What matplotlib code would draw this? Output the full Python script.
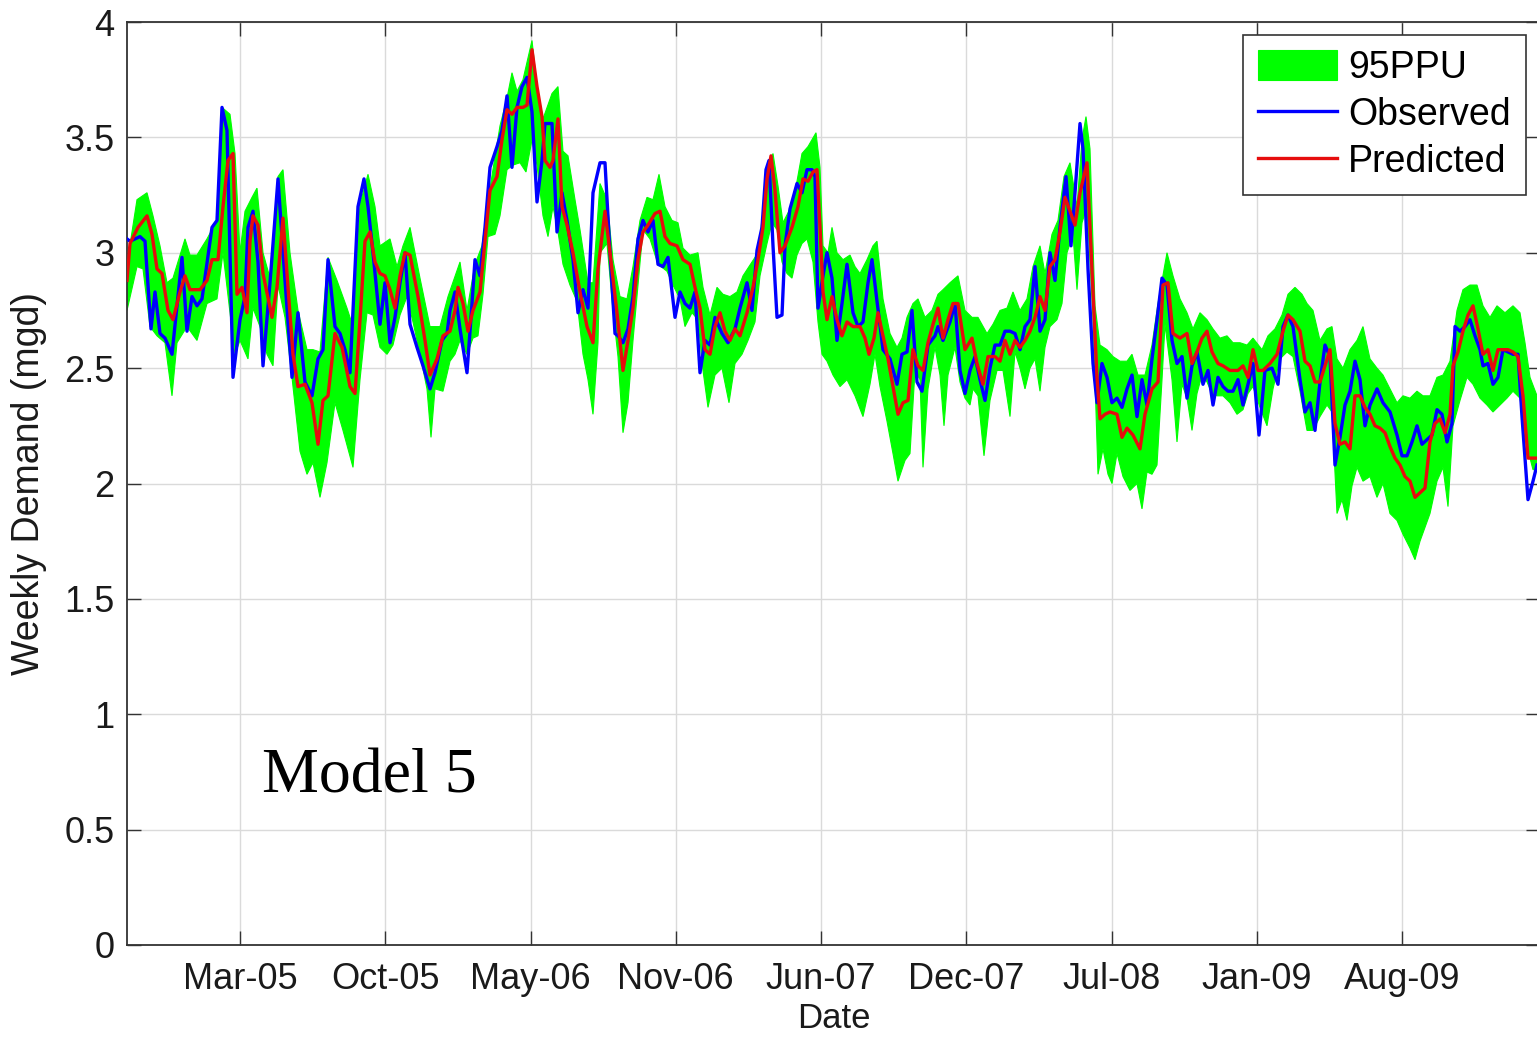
import numpy as np
import matplotlib
matplotlib.use("Agg")
import matplotlib.pyplot as plt
from matplotlib.ticker import FormatStrFormatter

# ---------------- data (week index, weekly demand in mgd) ----------------
observed = [
    (0.0, 3.06), (0.6, 3.05), (2.6, 3.07), (3.6, 3.05), (4.8, 2.67), (5.6, 2.83), (6.6, 2.65),
    (7.6, 2.63), (9.0, 2.56), (11.0, 2.98), (12.0, 2.66), (13.0, 2.81), (14.0, 2.77), (15.0, 2.80),
    (17.0, 3.11), (18.0, 3.14), (19.0, 3.63), (20.0, 3.53), (21.2, 2.46), (22.6, 2.71), (23.6, 2.81),
    (24.2, 3.11), (25.2, 3.18), (26.2, 2.96), (27.2, 2.51), (28.6, 2.87), (30.2, 3.32), (31.2, 3.00),
    (33.0, 2.46), (34.2, 2.74), (35.6, 2.44), (37.0, 2.38), (38.2, 2.54), (39.2, 2.58), (40.2, 2.97),
    (41.6, 2.68), (42.6, 2.65), (43.6, 2.58), (44.6, 2.48), (46.2, 3.20), (47.4, 3.32), (48.2, 3.20),
    (49.2, 3.00), (50.6, 2.69), (51.6, 2.87), (52.6, 2.61), (53.6, 2.72), (54.6, 2.87), (55.6, 3.00),
    (56.6, 2.69), (58.0, 2.59), (59.2, 2.51), (60.6, 2.41), (61.6, 2.48), (63.0, 2.62), (64.0, 2.65),
    (64.6, 2.75), (65.6, 2.83), (66.6, 2.67), (68.0, 2.48), (69.0, 2.78), (69.6, 2.97), (70.6, 2.90),
    (71.6, 3.11), (72.6, 3.37), (74.0, 3.46), (75.0, 3.53), (76.0, 3.68), (77.0, 3.37), (78.0, 3.63),
    (79.0, 3.72), (80.0, 3.76), (81.0, 3.61), (82.0, 3.22), (83.0, 3.40), (83.6, 3.56), (85.0, 3.56),
    (86.0, 3.09), (87.0, 3.26), (88.0, 3.14), (89.2, 2.97), (90.2, 2.74), (91.2, 2.84), (92.2, 2.76),
    (93.2, 3.26), (94.6, 3.39), (95.6, 3.39), (96.6, 3.00), (97.6, 2.65), (98.2, 2.64), (99.2, 2.61),
    (100.2, 2.67), (101.2, 2.81), (102.2, 3.06), (103.2, 3.14), (104.2, 3.09), (105.2, 3.14),
    (106.2, 2.95), (107.2, 2.94), (108.2, 2.98), (109.6, 2.72), (110.6, 2.83), (111.6, 2.78),
    (112.6, 2.76), (113.6, 2.83), (114.6, 2.48), (115.6, 2.62), (116.6, 2.60), (117.6, 2.72),
    (119.0, 2.65), (120.2, 2.61), (121.6, 2.67), (122.6, 2.76), (124.0, 2.87), (125.0, 2.75),
    (126.0, 3.01), (127.0, 3.11), (127.8, 3.36), (128.4, 3.40), (129.2, 3.03), (130.0, 2.72),
    (131.0, 2.73), (131.6, 3.03), (132.6, 3.19), (134.0, 3.30), (135.0, 3.26), (136.0, 3.36),
    (137.0, 3.36), (137.6, 3.33), (138.2, 2.76), (139.2, 2.90), (140.0, 3.00), (141.0, 2.89),
    (142.0, 2.62), (143.0, 2.78), (144.0, 2.95), (145.2, 2.74), (146.2, 2.68), (147.2, 2.70),
    (148.2, 2.87), (149.0, 2.97), (150.0, 2.79), (151.2, 2.58), (152.6, 2.54), (154.0, 2.43),
    (155.0, 2.56), (156.0, 2.57), (157.0, 2.75), (158.0, 2.44), (159.0, 2.40), (160.2, 2.60),
    (161.6, 2.64), (162.2, 2.68), (163.2, 2.62), (164.6, 2.70), (165.6, 2.78), (166.6, 2.49),
    (167.6, 2.39), (168.6, 2.49), (169.6, 2.55), (170.6, 2.45), (171.6, 2.36), (172.6, 2.50),
    (173.6, 2.60), (174.6, 2.60), (175.6, 2.66), (176.6, 2.66), (177.6, 2.65), (178.6, 2.58),
    (179.6, 2.68), (180.6, 2.71), (181.6, 2.94), (182.6, 2.66), (183.6, 2.71), (184.6, 3.00),
    (185.6, 2.88), (186.6, 3.11), (187.8, 3.33), (188.8, 3.03), (189.6, 3.26), (190.6, 3.56),
    (191.2, 3.45), (192.2, 2.93), (193.2, 2.52), (194.0, 2.35), (195.0, 2.52), (196.0, 2.46),
    (197.0, 2.35), (198.0, 2.37), (199.0, 2.33), (200.0, 2.41), (201.0, 2.47), (202.0, 2.29),
    (203.0, 2.45), (204.0, 2.34), (205.0, 2.54), (206.0, 2.71), (207.0, 2.89), (208.0, 2.86),
    (209.0, 2.62), (210.0, 2.52), (211.0, 2.55), (212.0, 2.37), (213.0, 2.51), (214.0, 2.57),
    (215.2, 2.43), (216.2, 2.49), (217.2, 2.34), (218.2, 2.46), (219.2, 2.42), (220.2, 2.40),
    (221.2, 2.40), (222.2, 2.45), (223.2, 2.34), (224.2, 2.43), (225.2, 2.52), (226.4, 2.21),
    (227.6, 2.49), (229.0, 2.50), (230.2, 2.43), (231.2, 2.68), (232.2, 2.73), (233.2, 2.68),
    (234.6, 2.45), (235.6, 2.31), (236.6, 2.35), (237.6, 2.23), (238.6, 2.44), (239.6, 2.60),
    (240.6, 2.55), (241.6, 2.08), (242.6, 2.20), (243.6, 2.34), (244.6, 2.40), (245.6, 2.53),
    (246.6, 2.45), (247.6, 2.25), (248.6, 2.34), (250.0, 2.41), (251.2, 2.35), (252.6, 2.31),
    (254.0, 2.21), (255.0, 2.12), (256.0, 2.12), (257.0, 2.18), (258.0, 2.25), (259.0, 2.17),
    (260.0, 2.19), (261.0, 2.21), (262.0, 2.32), (263.0, 2.30), (264.0, 2.18), (265.0, 2.26),
    (265.6, 2.68), (266.6, 2.66), (267.6, 2.68), (268.6, 2.71), (269.6, 2.64), (270.6, 2.58),
    (271.2, 2.51), (272.2, 2.52), (273.2, 2.43), (274.2, 2.46), (275.2, 2.58), (276.2, 2.57),
    (277.2, 2.56), (278.2, 2.56), (279.0, 2.29), (280.2, 1.93), (281.2, 2.01), (282.0, 2.08),
]

predicted = [
    (0.0, 2.88), (0.6, 3.04), (2.2, 3.11), (4.0, 3.16), (5.0, 3.08), (6.0, 2.93), (7.0, 2.91),
    (8.2, 2.75), (9.2, 2.71), (10.6, 2.83), (11.6, 2.90), (12.6, 2.84), (14.6, 2.84), (16.0, 2.88),
    (17.0, 2.97), (18.2, 2.97), (19.2, 3.20), (20.2, 3.40), (21.2, 3.43), (22.0, 2.82), (23.0, 2.85),
    (24.0, 2.74), (24.6, 3.05), (25.2, 3.16), (26.2, 3.12), (27.2, 2.91), (29.0, 2.72), (30.0, 2.85),
    (31.2, 3.15), (32.2, 2.85), (33.2, 2.56), (34.2, 2.42), (35.6, 2.43), (37.0, 2.35), (38.2, 2.17),
    (39.2, 2.36), (40.2, 2.38), (41.6, 2.65), (43.0, 2.59), (44.6, 2.42), (45.6, 2.39), (46.6, 2.71),
    (47.6, 3.05), (48.6, 3.09), (49.6, 2.96), (50.6, 2.91), (51.6, 2.90), (52.6, 2.84), (53.6, 2.76),
    (54.6, 2.90), (55.6, 3.00), (56.6, 2.99), (58.2, 2.81), (59.6, 2.62), (60.6, 2.47), (62.0, 2.54),
    (63.2, 2.64), (64.6, 2.66), (65.6, 2.75), (66.2, 2.85), (67.2, 2.78), (68.2, 2.66), (69.2, 2.75),
    (70.6, 2.83), (71.6, 3.05), (72.6, 3.27), (74.0, 3.33), (75.0, 3.49), (76.0, 3.62), (77.0, 3.60),
    (78.0, 3.63), (79.2, 3.63), (80.0, 3.64), (81.0, 3.88), (82.0, 3.72), (83.0, 3.59), (83.6, 3.40),
    (84.6, 3.37), (85.2, 3.40), (86.2, 3.58), (87.0, 3.20), (88.0, 3.12), (89.2, 3.00), (90.6, 2.83),
    (92.0, 2.68), (93.2, 2.61), (94.2, 2.93), (95.6, 3.18), (96.6, 3.00), (98.0, 2.74), (99.2, 2.49),
    (100.2, 2.62), (101.2, 2.76), (102.2, 2.97), (103.2, 3.09), (104.2, 3.12), (105.6, 3.17),
    (106.6, 3.18), (107.6, 3.07), (108.6, 3.04), (110.0, 3.03), (111.2, 2.97), (112.6, 2.95),
    (113.6, 2.85), (114.6, 2.76), (115.6, 2.58), (116.6, 2.56), (117.6, 2.68), (118.6, 2.74),
    (119.6, 2.66), (120.6, 2.62), (121.6, 2.67), (122.6, 2.64), (124.0, 2.74), (125.2, 2.85),
    (126.2, 2.97), (127.2, 3.11), (128.0, 3.32), (128.8, 3.42), (129.6, 3.27), (130.6, 3.00),
    (131.6, 3.03), (133.0, 3.11), (134.2, 3.20), (135.2, 3.32), (136.2, 3.31), (137.2, 3.35),
    (138.0, 3.36), (138.6, 3.11), (139.2, 2.83), (140.0, 2.71), (141.0, 2.81), (142.0, 2.71),
    (143.0, 2.64), (144.0, 2.70), (145.2, 2.68), (146.6, 2.68), (147.6, 2.63), (148.4, 2.56),
    (149.4, 2.63), (150.2, 2.74), (151.2, 2.64), (152.2, 2.54), (153.2, 2.42), (154.2, 2.30),
    (155.2, 2.35), (156.2, 2.36), (157.2, 2.58), (158.2, 2.51), (159.2, 2.49), (160.2, 2.61),
    (161.2, 2.69), (162.2, 2.76), (163.2, 2.63), (164.2, 2.71), (165.2, 2.78), (166.2, 2.78),
    (167.6, 2.58), (169.0, 2.63), (170.0, 2.52), (171.2, 2.43), (172.2, 2.55), (173.6, 2.55),
    (174.6, 2.53), (175.6, 2.62), (176.6, 2.56), (177.6, 2.62), (178.6, 2.59), (179.6, 2.62),
    (180.6, 2.66), (181.6, 2.72), (182.6, 2.81), (183.6, 2.75), (184.6, 2.94), (185.6, 2.97),
    (186.6, 3.09), (187.6, 3.24), (188.6, 3.18), (189.6, 3.12), (190.6, 3.26), (192.0, 3.39),
    (193.0, 2.93), (194.0, 2.46), (194.6, 2.28), (195.6, 2.30), (196.6, 2.31), (198.0, 2.30),
    (199.0, 2.20), (200.0, 2.24), (201.2, 2.21), (202.6, 2.15), (203.6, 2.30), (205.0, 2.41),
    (206.2, 2.44), (207.2, 2.86), (208.2, 2.87), (209.2, 2.65), (210.6, 2.63), (212.0, 2.65),
    (213.0, 2.52), (214.0, 2.57), (215.0, 2.63), (216.0, 2.66), (217.0, 2.57), (218.2, 2.52),
    (219.2, 2.51), (220.6, 2.49), (222.2, 2.49), (223.2, 2.51), (224.2, 2.46), (225.2, 2.58),
    (226.2, 2.49), (227.2, 2.49), (228.6, 2.52), (230.0, 2.56), (231.2, 2.66), (232.2, 2.73),
    (233.2, 2.71), (234.6, 2.66), (235.6, 2.53), (236.6, 2.51), (237.6, 2.44), (238.6, 2.44),
    (239.6, 2.51), (240.6, 2.58), (241.6, 2.26), (242.6, 2.17), (243.6, 2.18), (244.6, 2.15),
    (245.6, 2.38), (246.6, 2.38), (247.6, 2.33), (248.6, 2.30), (249.6, 2.25), (250.6, 2.24),
    (251.6, 2.22), (252.6, 2.16), (253.6, 2.11), (254.6, 2.08), (255.6, 2.03), (256.6, 2.01),
    (257.6, 1.94), (258.6, 1.96), (259.6, 1.98), (260.6, 2.18), (261.6, 2.26), (262.6, 2.28),
    (263.6, 2.22), (264.6, 2.30), (265.2, 2.51), (266.2, 2.57), (267.2, 2.66), (268.2, 2.73),
    (269.2, 2.77), (270.2, 2.67), (271.2, 2.56), (272.2, 2.58), (273.2, 2.49), (274.2, 2.58),
    (275.2, 2.58), (276.2, 2.58), (277.2, 2.57), (278.2, 2.55), (279.2, 2.38), (280.2, 2.11),
    (282.0, 2.11),
]

ppu_upper = [
    (0.0, 2.95), (2.0, 3.23), (4.0, 3.26), (5.2, 3.16), (6.6, 3.03), (8.0, 2.87), (9.2, 2.89),
    (11.6, 3.06), (12.6, 2.99), (14.0, 2.99), (16.0, 3.06), (18.0, 3.14), (19.0, 3.63), (20.6, 3.60),
    (21.6, 3.43), (22.6, 3.00), (23.6, 3.18), (25.0, 3.24), (26.0, 3.28), (27.2, 3.00), (28.6, 2.89),
    (30.2, 3.33), (31.2, 3.36), (32.6, 3.00), (34.2, 2.75), (36.0, 2.58), (37.2, 2.58), (38.6, 2.57),
    (40.2, 2.98), (42.0, 2.88), (44.0, 2.76), (45.2, 2.68), (46.6, 3.21), (48.2, 3.34), (49.6, 3.20),
    (50.6, 3.03), (52.6, 3.06), (54.0, 2.94), (55.2, 3.03), (56.6, 3.11), (58.6, 2.89), (60.6, 2.68),
    (62.6, 2.68), (64.2, 2.81), (66.6, 2.96), (68.0, 2.75), (69.6, 2.95), (71.0, 3.03), (72.6, 3.28),
    (74.6, 3.55), (76.0, 3.67), (77.0, 3.78), (78.0, 3.70), (79.2, 3.75), (81.0, 3.92), (82.0, 3.72),
    (83.2, 3.58), (85.0, 3.69), (86.2, 3.72), (87.2, 3.44), (88.2, 3.42), (89.6, 3.23), (90.6, 3.10),
    (92.2, 2.87), (93.2, 2.87), (94.6, 3.30), (96.0, 3.23), (97.2, 2.97), (98.6, 2.81), (100.0, 2.80),
    (101.2, 2.94), (102.6, 3.14), (104.0, 3.24), (105.2, 3.23), (106.4, 3.34), (107.6, 3.20),
    (109.0, 3.14), (110.2, 3.13), (111.2, 3.02), (112.6, 2.99), (114.2, 3.00), (115.2, 2.85),
    (116.6, 2.73), (118.0, 2.85), (119.2, 2.82), (120.6, 2.81), (122.0, 2.83), (123.2, 2.90),
    (125.0, 2.96), (126.2, 3.00), (127.2, 3.18), (128.2, 3.37), (129.2, 3.43), (130.2, 3.29),
    (131.2, 3.13), (132.6, 3.19), (134.0, 3.31), (135.0, 3.43), (136.2, 3.46), (137.8, 3.52),
    (138.6, 3.37), (139.2, 3.03), (140.2, 3.00), (141.0, 3.11), (142.0, 3.00), (143.2, 2.97),
    (144.6, 2.99), (145.6, 2.94), (146.6, 2.91), (148.0, 2.97), (149.2, 3.03), (150.0, 3.05),
    (151.2, 2.80), (152.6, 2.65), (154.0, 2.59), (155.0, 2.63), (156.0, 2.72), (157.2, 2.78),
    (158.2, 2.80), (159.6, 2.72), (161.0, 2.75), (162.2, 2.82), (163.2, 2.84), (164.6, 2.87),
    (166.2, 2.90), (167.6, 2.75), (169.0, 2.72), (170.2, 2.72), (172.0, 2.65), (173.2, 2.69),
    (174.6, 2.75), (176.0, 2.76), (177.2, 2.83), (178.6, 2.75), (180.0, 2.80), (181.2, 2.94),
    (182.6, 3.03), (183.6, 2.91), (185.0, 3.08), (186.2, 3.14), (187.4, 3.33), (188.6, 3.39),
    (190.0, 3.20), (191.0, 3.49), (191.8, 3.59), (192.6, 3.45), (193.6, 2.77), (194.6, 2.60),
    (196.0, 2.58), (197.2, 2.55), (198.6, 2.53), (200.0, 2.53), (201.0, 2.56), (202.2, 2.47),
    (203.6, 2.47), (205.0, 2.60), (206.2, 2.78), (208.0, 3.00), (209.2, 2.90), (210.6, 2.80),
    (212.0, 2.74), (213.2, 2.67), (214.6, 2.74), (216.0, 2.71), (217.2, 2.67), (218.6, 2.63),
    (220.0, 2.64), (221.2, 2.61), (222.6, 2.61), (224.0, 2.60), (225.2, 2.63), (227.0, 2.58),
    (228.2, 2.64), (229.6, 2.67), (231.0, 2.73), (232.2, 2.82), (233.6, 2.85), (235.0, 2.82),
    (236.0, 2.78), (237.2, 2.75), (238.6, 2.62), (240.0, 2.67), (241.0, 2.68), (242.0, 2.54),
    (243.2, 2.50), (244.6, 2.58), (246.0, 2.62), (247.2, 2.68), (248.6, 2.54), (250.0, 2.50),
    (251.2, 2.47), (252.6, 2.41), (254.0, 2.35), (255.2, 2.38), (256.6, 2.37), (258.0, 2.40),
    (259.2, 2.38), (260.6, 2.38), (262.0, 2.46), (263.2, 2.47), (264.6, 2.53), (266.0, 2.75),
    (267.2, 2.84), (268.6, 2.86), (270.0, 2.86), (271.2, 2.77), (272.6, 2.72), (274.0, 2.77),
    (275.6, 2.74), (277.2, 2.77), (278.6, 2.74), (279.6, 2.61), (280.6, 2.46), (282.0, 2.38),
]

ppu_lower = [
    (0.0, 2.75), (2.0, 2.94), (3.2, 2.93), (4.6, 2.68), (6.0, 2.64), (7.6, 2.61), (9.0, 2.38),
    (10.0, 2.61), (12.0, 2.68), (14.0, 2.62), (16.0, 2.78), (18.0, 2.80), (19.2, 3.00), (20.6, 2.74),
    (21.6, 2.56), (22.6, 2.62), (24.2, 2.54), (25.2, 2.76), (26.6, 2.68), (28.0, 2.56), (29.2, 2.51),
    (30.2, 2.86), (31.6, 2.72), (33.0, 2.46), (34.6, 2.14), (36.0, 2.04), (37.2, 2.09), (38.6, 1.94),
    (40.0, 2.09), (41.6, 2.35), (43.2, 2.23), (45.2, 2.07), (46.6, 2.45), (48.0, 2.74), (49.2, 2.73),
    (50.6, 2.59), (52.0, 2.56), (53.2, 2.60), (54.6, 2.73), (56.0, 2.81), (57.2, 2.70), (58.6, 2.56),
    (60.0, 2.41), (60.8, 2.20), (61.6, 2.41), (63.2, 2.40), (64.6, 2.53), (65.6, 2.56), (66.6, 2.62),
    (68.0, 2.56), (69.2, 2.63), (70.2, 2.64), (71.2, 2.82), (72.2, 3.07), (73.6, 3.08), (74.6, 3.16),
    (76.0, 3.36), (77.2, 3.38), (78.6, 3.39), (79.8, 3.35), (81.0, 3.49), (82.0, 3.38), (83.2, 3.16),
    (84.2, 3.07), (85.2, 3.20), (86.2, 3.09), (87.2, 2.95), (88.6, 2.86), (90.0, 2.79), (91.2, 2.56),
    (92.2, 2.45), (93.2, 2.30), (94.2, 2.61), (94.6, 3.00), (96.0, 3.04), (97.2, 2.75), (98.2, 2.55),
    (99.2, 2.22), (100.2, 2.35), (101.2, 2.62), (102.2, 2.86), (103.2, 3.10), (104.6, 3.06),
    (106.2, 2.95), (108.0, 2.92), (109.2, 2.86), (110.6, 2.80), (111.6, 2.68), (113.0, 2.74),
    (114.2, 2.71), (115.2, 2.49), (116.2, 2.33), (117.6, 2.47), (119.0, 2.50), (120.4, 2.35),
    (121.6, 2.52), (123.0, 2.56), (124.2, 2.62), (125.6, 2.70), (126.6, 2.90), (128.0, 3.04),
    (129.0, 3.13), (130.0, 3.10), (131.0, 2.96), (132.0, 2.91), (133.0, 2.89), (134.0, 2.99),
    (135.0, 3.04), (136.0, 3.06), (137.2, 2.96), (138.2, 2.70), (139.0, 2.56), (140.0, 2.53),
    (141.2, 2.47), (142.6, 2.42), (144.0, 2.45), (145.6, 2.38), (147.2, 2.29), (148.6, 2.43),
    (149.6, 2.56), (150.6, 2.42), (152.0, 2.27), (153.2, 2.13), (154.2, 2.01), (155.6, 2.10),
    (156.6, 2.13), (157.6, 2.49), (158.6, 2.45), (159.2, 2.07), (160.2, 2.41), (161.6, 2.59),
    (162.6, 2.47), (163.4, 2.25), (164.2, 2.47), (165.6, 2.59), (166.6, 2.44), (167.6, 2.37),
    (168.6, 2.34), (169.2, 2.41), (170.2, 2.38), (171.4, 2.12), (172.6, 2.36), (174.0, 2.49),
    (175.2, 2.49), (176.6, 2.29), (177.6, 2.57), (178.6, 2.50), (179.6, 2.41), (180.6, 2.50),
    (181.6, 2.54), (182.6, 2.40), (183.6, 2.59), (184.6, 2.68), (186.0, 2.71), (187.0, 2.78),
    (188.0, 3.00), (189.2, 3.08), (190.0, 2.84), (191.0, 3.13), (192.0, 3.20), (193.2, 2.72),
    (194.2, 2.04), (195.2, 2.15), (196.2, 2.04), (197.0, 2.00), (198.0, 2.13), (199.2, 2.03),
    (200.6, 1.97), (202.0, 2.00), (203.0, 1.89), (204.0, 2.05), (205.0, 2.04), (206.0, 2.08),
    (207.0, 2.45), (207.6, 2.69), (209.0, 2.45), (210.0, 2.18), (211.0, 2.43), (212.0, 2.37),
    (213.0, 2.23), (214.0, 2.39), (215.0, 2.47), (216.0, 2.44), (217.0, 2.39), (218.0, 2.38),
    (219.2, 2.38), (220.6, 2.35), (222.0, 2.30), (223.2, 2.32), (224.2, 2.39), (225.2, 2.42),
    (226.6, 2.33), (228.0, 2.25), (229.2, 2.41), (230.6, 2.54), (232.0, 2.57), (233.2, 2.55),
    (234.6, 2.40), (236.0, 2.23), (237.2, 2.23), (238.6, 2.29), (240.0, 2.34), (241.0, 2.31),
    (242.0, 1.87), (243.0, 1.93), (244.0, 1.84), (245.0, 1.99), (246.0, 2.07), (247.2, 2.01),
    (248.6, 2.03), (250.0, 1.94), (251.2, 2.00), (252.6, 1.87), (254.0, 1.84), (255.2, 1.78),
    (256.6, 1.72), (257.6, 1.67), (258.6, 1.75), (259.6, 1.81), (260.6, 1.87), (262.0, 2.01),
    (263.2, 2.07), (264.2, 1.90), (265.2, 2.25), (266.6, 2.36), (268.0, 2.46), (269.2, 2.43),
    (270.6, 2.37), (272.0, 2.34), (273.2, 2.31), (274.6, 2.34), (276.0, 2.37), (277.2, 2.40),
    (278.6, 2.37), (280.0, 2.16), (281.2, 2.06), (282.0, 2.06),
]

date_labels = ["Mar-05", "Oct-05", "May-06", "Nov-06", "Jun-07",
               "Dec-07", "Jul-08", "Jan-09", "Aug-09"]
y_ticks = [0, 0.5, 1, 1.5, 2, 2.5, 3, 3.5, 4]

# ---------------- figure ----------------
W, H = 1537, 1038
fig = plt.figure(figsize=(W / 100, H / 100), dpi=100)
left, right, top, bottom = 127, 1540, 22, 945
ax = fig.add_axes([left / W, 1 - bottom / H, (right - left) / W, (bottom - top) / H])

obs_w, obs_v = map(np.array, zip(*observed))
pred_w, pred_v = map(np.array, zip(*predicted))
up_w, up_v = map(np.array, zip(*ppu_upper))
lo_w, lo_v = map(np.array, zip(*ppu_lower))

band_x = np.concatenate([up_w, lo_w[::-1]])
band_y = np.concatenate([up_v, lo_v[::-1]])
ax.fill(band_x, band_y, color=(0, 1, 0), lw=0.8, edgecolor=(0, 1, 0), label="95PPU", zorder=2)
ax.plot(obs_w, obs_v, color=(0, 0, 1), lw=2.4, label="Observed", zorder=3)
ax.plot(pred_w, pred_v, color=(0.9, 0.05, 0.05), lw=2.4, label="Predicted", zorder=4)

ax.set_xlim(0, 282.6)
ax.set_ylim(0, 4)
first_tick, tick_step = 22.6, 29.05
ax.set_xticks([first_tick + tick_step * i for i in range(len(date_labels))])
ax.set_xticklabels(date_labels)
ax.set_yticks(y_ticks)
ax.yaxis.set_major_formatter(FormatStrFormatter("%g"))

font = "Liberation Sans"
ax.tick_params(axis="both", which="major", direction="in", length=10, width=1,
               top=True, right=True, labelsize=26, color="#333333", labelcolor="#1a1a1a")
ax.tick_params(axis="x", pad=12)
ax.tick_params(axis="y", pad=9)
for lab in ax.get_xticklabels() + ax.get_yticklabels():
    lab.set_fontfamily(font)

ax.grid(True, color="#dadada", lw=1.0, ls="-", zorder=0)
ax.set_axisbelow(True)
for sp in ax.spines.values():
    sp.set_color("#333333")
    sp.set_linewidth(1.3)

ax.set_xlabel("Date", fontsize=25, family=font, color="#1a1a1a", labelpad=4)
ax.set_ylabel("Weekly Demand (mgd)", fontsize=27, family=font, color="#1a1a1a", labelpad=12)

ax.text(0.0957, 0.1647, "Model 5", transform=ax.transAxes, fontsize=46,
        family="Liberation Serif", va="baseline", ha="left", color="black")

leg = ax.legend(loc="upper right", bbox_to_anchor=(0.990, 0.986), borderaxespad=0,
                prop={"family": font, "size": 27}, frameon=True, fancybox=False,
                framealpha=1, edgecolor="#333333", handlelength=2.1, handleheight=0.85,
                handletextpad=0.3, labelspacing=0.3, borderpad=0.4)
leg.get_frame().set_linewidth(1.2)

fig.savefig("out.png", dpi=100)
